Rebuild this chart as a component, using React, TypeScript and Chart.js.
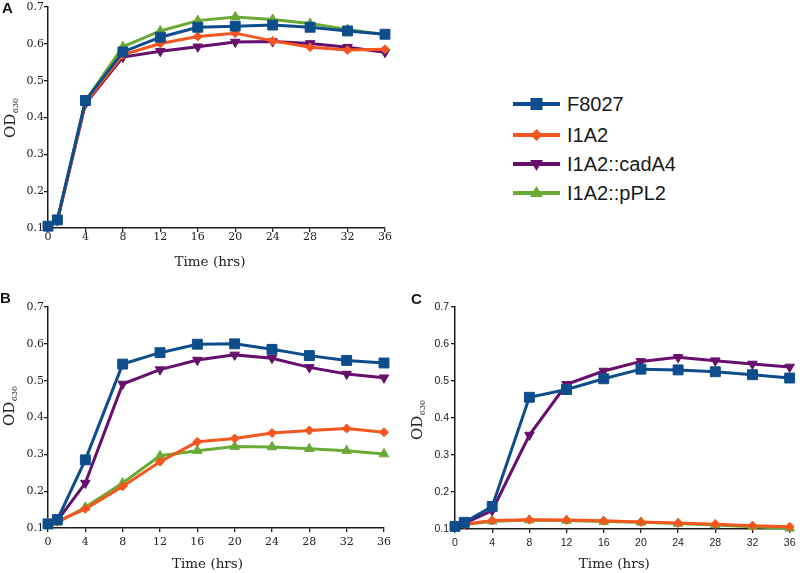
import React, { useEffect, useRef } from "react";
import { Chart, registerables } from "chart.js";

Chart.register(...registerables);

// ---------------- data ----------------
const hours = [0, 1, 4, 8, 12, 16, 20, 24, 28, 32, 36];
const xTickValues = [0, 4, 8, 12, 16, 20, 24, 28, 32, 36];
const xTickLabels = ["0", "4", "8", "12", "16", "20", "24", "28", "32", "36"];
const yTickValues = [0.1, 0.2, 0.3, 0.4, 0.5, 0.6, 0.7];
const yTickLabels = ["0.1", "0.2", "0.3", "0.4", "0.5", "0.6", "0.7"];
const strainNames = ["F8027", "I1A2", "I1A2::cadA4", "I1A2::pPL2"];

// Panel A
const aF8027 = [0.105, 0.122, 0.446, 0.578, 0.618, 0.645, 0.648, 0.651, 0.645, 0.635, 0.626];
const aI1A2 = [0.105, 0.120, 0.440, 0.570, 0.601, 0.620, 0.629, 0.608, 0.591, 0.583, 0.585];
const aCadA4 = [0.105, 0.120, 0.437, 0.564, 0.580, 0.592, 0.605, 0.606, 0.601, 0.591, 0.577];
const aPPL2 = [0.105, 0.120, 0.445, 0.592, 0.635, 0.663, 0.673, 0.666, 0.655, 0.639, 0.625];

// Panel B
const bF8027 = [0.111, 0.123, 0.285, 0.545, 0.576, 0.599, 0.600, 0.585, 0.568, 0.555, 0.548];
const bI1A2 = [0.115, 0.118, 0.152, 0.213, 0.280, 0.334, 0.343, 0.358, 0.365, 0.370, 0.360];
const bCadA4 = [0.116, 0.120, 0.222, 0.491, 0.530, 0.556, 0.570, 0.561, 0.536, 0.518, 0.508];
const bPPL2 = [0.112, 0.115, 0.156, 0.222, 0.296, 0.310, 0.321, 0.320, 0.315, 0.310, 0.301];

// Panel C
const cF8027 = [0.107, 0.118, 0.161, 0.456, 0.477, 0.506, 0.532, 0.530, 0.525, 0.517, 0.508];
const cI1A2 = [0.107, 0.113, 0.123, 0.125, 0.124, 0.122, 0.119, 0.116, 0.113, 0.109, 0.106];
const cCadA4 = [0.107, 0.115, 0.150, 0.354, 0.491, 0.527, 0.553, 0.564, 0.555, 0.546, 0.538];
const cPPL2 = [0.107, 0.112, 0.121, 0.124, 0.123, 0.120, 0.118, 0.115, 0.111, 0.106, 0.102];

// ---------------- styles ----------------
const strainStyles = [
  { color: "#0e4d8c", pointStyle: "rect", radius: 7, rotation: 0 },
  { color: "#f4561f", pointStyle: "rectRot", radius: 4.5, rotation: 0 },
  { color: "#660f6c", pointStyle: "triangle", radius: 5.5, rotation: 180 },
  { color: "#6aab36", pointStyle: "triangle", radius: 5.5, rotation: 0 },
];

const AXIS_COLOR = "#1c1c1c";
const SERIF = '"DejaVu Serif", serif';
const SANS = '"Liberation Sans", Arial, sans-serif';

type PanelCfg = {
  letter: string;
  left: number;
  top: number;
  width: number;
  height: number;
  padTop: number;
  padRight: number;
  yAxisW: number;
  xAxisH: number;
  tickFamily: string;
  tickSize: number;
  xTickPad: number;
  yTickPad: number;
  letterX: number;
  letterY: number;
  odX: number;
  odBottom: number;
  titleDx: number;
  titleY: number;
  series: number[][];
};

const panels: PanelCfg[] = [
  {
    letter: "A", left: 0, top: 0, width: 400, height: 272,
    padTop: 7, padRight: 15, yAxisW: 48, xAxisH: 44,
    tickFamily: SERIF, tickSize: 11, xTickPad: -0.5, yTickPad: 0,
    letterX: 2, letterY: 13, odX: 15, odBottom: 138, titleDx: -6.5, titleY: 262,
    series: [aF8027, aI1A2, aCadA4, aPPL2],
  },
  {
    letter: "B", left: 0, top: 280, width: 400, height: 293,
    padTop: 27, padRight: 16, yAxisW: 48, xAxisH: 45,
    tickFamily: SERIF, tickSize: 11, xTickPad: 5, yTickPad: 0,
    letterX: 0, letterY: 23, odX: 14, odBottom: 146, titleDx: -8.5, titleY: 284,
    series: [bF8027, bI1A2, bCadA4, bPPL2],
  },
  {
    letter: "C", left: 400, top: 280, width: 400, height: 293,
    padTop: 27, padRight: 6, yAxisW: 55, xAxisH: 44,
    tickFamily: SANS, tickSize: 10.5, xTickPad: 4.5, yTickPad: 2,
    letterX: 11, letterY: 24, odX: 22, odBottom: 160, titleDx: -8, titleY: 284,
    series: [cF8027, cI1A2, cCadA4, cPPL2],
  },
];

function makeTextPlugin(p: PanelCfg) {
  return {
    id: "panelText" + p.letter,
    afterDraw(chart: any) {
      const ctx = chart.ctx as CanvasRenderingContext2D;
      const ca = chart.chartArea;
      ctx.save();
      ctx.fillStyle = "#111";
      // panel letter
      ctx.font = `bold 15px ${SANS}`;
      ctx.textAlign = "left";
      ctx.textBaseline = "alphabetic";
      ctx.fillText(p.letter, p.letterX, p.letterY);
      // x title
      ctx.font = `13.5px ${SERIF}`;
      ctx.fillStyle = "#222";
      ctx.textAlign = "center";
      ctx.textBaseline = "middle";
      ctx.fillText("Time (hrs)", (ca.left + ca.right) / 2 + p.titleDx, p.titleY);
      // y title with subscript
      ctx.translate(p.odX, p.odBottom);
      ctx.rotate(-Math.PI / 2);
      ctx.textAlign = "left";
      ctx.textBaseline = "alphabetic";
      ctx.font = `15px ${SERIF}`;
      ctx.fillText("OD", 0, 0);
      const w = ctx.measureText("OD").width;
      ctx.font = `8px ${SERIF}`;
      ctx.fillText("630", w + 0.5, 3);
      ctx.restore();
    },
  };
}

function Panel({ cfg }: { cfg: PanelCfg }) {
  const ref = useRef<HTMLCanvasElement | null>(null);
  useEffect(() => {
    if (!ref.current) return;
    const datasets = cfg.series.map((vals, i) => {
      const st = strainStyles[i];
      return {
        label: strainNames[i],
        data: hours.map((h, j) => ({ x: h, y: vals[j] })),
        borderColor: st.color,
        backgroundColor: st.color,
        borderWidth: 3,
        pointStyle: st.pointStyle,
        pointRadius: st.radius,
        pointRotation: st.rotation,
        pointBorderWidth: 1,
        pointBorderColor: st.color,
        pointBackgroundColor: st.color,
        tension: 0,
        clip: false,
      };
    });
    const tickFont = { family: cfg.tickFamily, size: cfg.tickSize, lineHeight: 1 };
    const chart = new Chart(ref.current, {
      type: "line",
      data: { datasets: datasets as any },
      options: {
        responsive: false,
        animation: false,
        devicePixelRatio: 1,
        layout: {
          autoPadding: false,
          padding: { left: 0, top: cfg.padTop, right: cfg.padRight, bottom: 0 },
        },
        plugins: { legend: { display: false }, tooltip: { enabled: false } },
        scales: {
          x: {
            type: "linear",
            min: 0,
            max: 36,
            afterBuildTicks: (axis: any) => {
              axis.ticks = xTickValues.map((v) => ({ value: v }));
            },
            afterFit: (axis: any) => {
              axis.height = cfg.xAxisH;
            },
            grid: { drawOnChartArea: false, drawTicks: true, tickLength: 4, color: AXIS_COLOR, lineWidth: 1.3 },
            border: { display: true, color: AXIS_COLOR, width: 1.5 },
            ticks: {
              autoSkip: false,
              maxRotation: 0,
              color: "#222",
              font: tickFont,
              padding: cfg.xTickPad,
              callback: (_v: any, i: number) => xTickLabels[i],
            },
          },
          y: {
            type: "linear",
            min: 0.1,
            max: 0.7,
            afterBuildTicks: (axis: any) => {
              axis.ticks = yTickValues.map((v) => ({ value: v }));
            },
            afterFit: (axis: any) => {
              axis.width = cfg.yAxisW;
            },
            grid: { drawOnChartArea: false, drawTicks: true, tickLength: 4, color: AXIS_COLOR, lineWidth: 1.3 },
            border: { display: true, color: AXIS_COLOR, width: 1.5 },
            ticks: {
              color: "#222",
              font: tickFont,
              padding: cfg.yTickPad,
              callback: (_v: any, i: number) => yTickLabels[i],
            },
          },
        },
      } as any,
      plugins: [makeTextPlugin(cfg)],
    });
    return () => chart.destroy();
  }, [cfg]);
  return (
    <canvas
      ref={ref}
      width={cfg.width}
      height={cfg.height}
      style={{ position: "absolute", left: cfg.left, top: cfg.top, width: cfg.width, height: cfg.height }}
    />
  );
}

function LegendMarker({ idx }: { idx: number }) {
  const st = strainStyles[idx];
  const cx = 23.5;
  const cy = 8;
  let shape: React.ReactNode = null;
  if (st.pointStyle === "rect") {
    shape = <rect x={cx - 6} y={cy - 6} width={12} height={12} fill={st.color} />;
  } else if (st.pointStyle === "rectRot") {
    shape = <polygon points={`${cx},${cy - 6} ${cx + 6},${cy} ${cx},${cy + 6} ${cx - 6},${cy}`} fill={st.color} />;
  } else if (st.rotation === 180) {
    shape = <polygon points={`${cx - 6.5},${cy - 4} ${cx + 6.5},${cy - 4} ${cx},${cy + 7}`} fill={st.color} />;
  } else {
    shape = <polygon points={`${cx - 6.5},${cy + 4} ${cx + 6.5},${cy + 4} ${cx},${cy - 7}`} fill={st.color} />;
  }
  return (
    <svg width={47} height={16} style={{ position: "absolute", left: 0, top: 2 }}>
      <line x1={0} y1={cy} x2={47} y2={cy} stroke={st.color} strokeWidth={4} />
      {shape}
    </svg>
  );
}

const legendRowY = [104, 134.5, 163.5, 193];

function Legend() {
  return (
    <div style={{ position: "absolute", left: 513, top: 0 }}>
      {strainNames.map((name, i) => (
        <div key={name} style={{ position: "absolute", left: 0, top: legendRowY[i] - 10, height: 20, width: 230 }}>
          <LegendMarker idx={i} />
          <span
            style={{
              position: "absolute",
              left: 54,
              top: 0,
              height: 20,
              lineHeight: "20px",
              fontFamily: SANS,
              fontSize: 20,
              color: "#1a1a1a",
              whiteSpace: "nowrap",
            }}
          >
            {name}
          </span>
        </div>
      ))}
    </div>
  );
}

export default function App() {
  return (
    <div
      style={{
        position: "fixed",
        left: 0,
        top: 0,
        width: 800,
        height: 573,
        overflow: "hidden",
        background: "#fff",
      }}
    >
      {panels.map((p) => (
        <Panel key={p.letter} cfg={p} />
      ))}
      <Legend />
    </div>
  );
}
